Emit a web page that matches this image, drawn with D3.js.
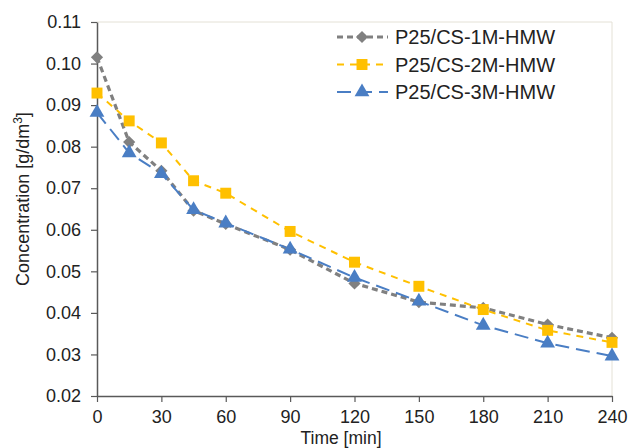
<!DOCTYPE html>
<html><head><meta charset="utf-8">
<script src="https://cdn.jsdelivr.net/npm/d3@7"></script>
<style>body{margin:0;background:#fff;} text{font-family:"Liberation Sans",Arial,sans-serif;}</style>
</head><body>
<svg id="c" width="629" height="448"></svg>
<script>
const times = [0, 15, 30, 45, 60, 90, 120, 150, 180, 210, 240];
const s1M = [0.1015, 0.0811, 0.0742, 0.0646, 0.0614, 0.0552, 0.0471, 0.0426, 0.0412, 0.0372, 0.0340];
const s2M = [0.0929, 0.0862, 0.0809, 0.0718, 0.0688, 0.0596, 0.0522, 0.0464, 0.0408, 0.0358, 0.0329];
const s3M = [0.0882, 0.0785, 0.0735, 0.0648, 0.0616, 0.0553, 0.0485, 0.0428, 0.0370, 0.0327, 0.0296];
const seriesNames = ["P25/CS-1M-HMW", "P25/CS-2M-HMW", "P25/CS-3M-HMW"];
const xTicks = [0, 30, 60, 90, 120, 150, 180, 210, 240];
const yTicks = [0.02, 0.03, 0.04, 0.05, 0.06, 0.07, 0.08, 0.09, 0.10, 0.11];

const svg = d3.select("#c");
const L = 97, R = 612, T = 22, B = 396;
const x = d3.scaleLinear().domain([0, 240]).range([L, R]);
const y = d3.scaleLinear().domain([0.02, 0.11]).range([B, T]);

// plot frame (light)
svg.append("path").attr("d", `M${L},${T}H${R}V${B}`).attr("fill","none").attr("stroke","#e4e1d6").attr("stroke-width",1);

const axisColor = "#595959";
const gx = svg.append("g").attr("transform",`translate(0,${B})`)
  .call(d3.axisBottom(x).tickValues(xTicks).tickSize(6).tickSizeOuter(0).tickFormat(d3.format("d")));
const gy = svg.append("g").attr("transform",`translate(${L},0)`)
  .call(d3.axisLeft(y).tickValues(yTicks).tickSize(6).tickSizeOuter(0).tickFormat(d3.format(".2f")));
[gx, gy].forEach(g => {
  g.select(".domain").attr("stroke", axisColor).attr("stroke-width", 1.5);
  g.selectAll(".tick line").attr("stroke", axisColor).attr("stroke-width", 1.2);
  g.selectAll(".tick text").attr("fill","#222").style("font-size","18px").style("font-family","'Liberation Sans',Arial,sans-serif");
});
gx.selectAll(".tick text").attr("y", 27).attr("dy", null);
gy.selectAll(".tick text").attr("x",-16);

svg.append("text").attr("x", 341).attr("y", 444).attr("text-anchor","middle")
  .style("font-size","17.5px").attr("fill","#222").text("Time [min]");
svg.append("text").attr("transform",`translate(29,199) rotate(-90)`).attr("text-anchor","middle")
  .style("font-size","18px").attr("fill","#222")
  .html('Concentration [g/dm<tspan dy="-7" style="font-size:12px">3</tspan><tspan dy="7">]</tspan>');

const series = [
  {name: seriesNames[0], vals: s1M, color:"#808080", dash:"6,4", width:3.2, sym: d3.symbolDiamond2, size: 95},
  {name: seriesNames[1], vals: s2M, color:"#FFC000", dash:"7,6", width:2, sym: d3.symbolSquare, size: 120},
  {name: seriesNames[2], vals: s3M, color:"#4A7EC4", dash:"14,7", width:2, sym: d3.symbolTriangle, size: 95}
];
const line = d3.line().x(d=>x(d[0])).y(d=>y(d[1]));
series.forEach(s => {
  const pts = times.map((t,i)=>[t, s.vals[i]]);
  svg.append("path").datum(pts).attr("d", line).attr("fill","none")
    .attr("stroke", s.color).attr("stroke-width", s.width).attr("stroke-dasharray", s.dash);
});
series.forEach(s => {
  const pts = times.map((t,i)=>[t, s.vals[i]]);
  svg.selectAll(null).data(pts).enter().append("path")
    .attr("d", d3.symbol().type(s.sym).size(s.size))
    .attr("transform", d=>`translate(${x(d[0])},${y(d[1])})`)
    .attr("fill", s.color);
});

// legend
const lg = svg.append("g");
series.forEach((s,i) => {
  const cy = 37 + i*27.5;
  lg.append("line").attr("x1",337).attr("x2",388).attr("y1",cy).attr("y2",cy)
    .attr("stroke", s.color).attr("stroke-width", s.width).attr("stroke-dasharray", s.dash);
  lg.append("path").attr("d", d3.symbol().type(s.sym).size(s.size)).attr("transform",`translate(362,${cy})`).attr("fill", s.color);
  lg.append("text").attr("x",395).attr("y",cy).attr("dy","0.36em").style("font-size","20px").attr("fill","#222").text(s.name);
});
</script>
</body></html>
